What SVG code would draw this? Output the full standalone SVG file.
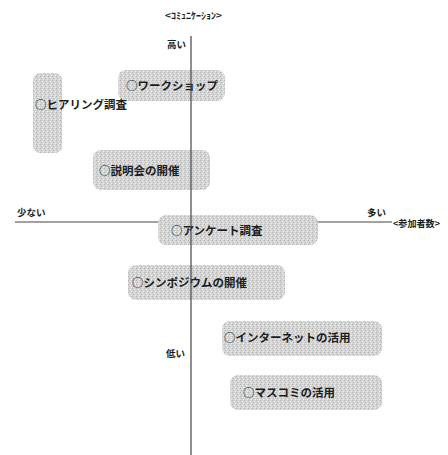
<svg xmlns="http://www.w3.org/2000/svg" width="448" height="455" viewBox="0 0 448 455">
<style>
.box{fill:url(#stip);}
.lbl{font-family:"Noto Sans CJK JP","Noto Sans",sans-serif;font-size:11.5px;font-weight:bold;fill:#1e1e1e;}
.ax{font-family:"Noto Sans CJK JP","Noto Sans",sans-serif;font-size:9.5px;font-weight:bold;fill:#1e1e1e;}
.axis{stroke:#444;stroke-width:1.2;fill:none;}
</style>
<defs>
<pattern id="stip" width="4" height="4" patternUnits="userSpaceOnUse">
<rect width="4" height="4" fill="#d4d4d4"/>
<rect x="0" y="0" width="1" height="1" fill="#b2b2b2"/>
<rect x="2" y="1" width="1" height="1" fill="#ececec"/>
<rect x="1" y="2" width="1" height="1" fill="#bababa"/>
<rect x="3" y="3" width="1" height="1" fill="#efefef"/>
</pattern>
</defs>
<rect width="448" height="455" fill="#ffffff"/>
<g id="axes">
<line class="axis" x1="15" y1="222" x2="392" y2="222"/>
</g>
<g id="node-workshop"><rect class="box" x="118" y="70" width="107" height="31" rx="8"/><text class="lbl" x="126" y="90">○ワークショップ</text></g>
<g id="node-hearing"><rect class="box" x="33" y="73" width="29" height="80" rx="7"/><text class="lbl" x="35" y="109">○ヒアリング調査</text></g>
<g id="node-setsumeikai"><rect class="box" x="93" y="150" width="117" height="40" rx="8"/><text class="lbl" x="99" y="175">○説明会の開催</text></g>
<g id="node-enquete"><rect class="box" x="158" y="215" width="160" height="30" rx="8"/><text class="lbl" x="171" y="235">○アンケート調査</text></g>
<g id="node-symposium"><rect class="box" x="128" y="265" width="157" height="35" rx="8"/><text class="lbl" x="132" y="287">○シンポジウムの開催</text></g>
<g id="node-internet"><rect class="box" x="222" y="321" width="160" height="35" rx="8"/><text class="lbl" x="224" y="342">○インターネットの活用</text></g>
<g id="node-masscomi"><rect class="box" x="230" y="375" width="152" height="35" rx="8"/><text class="lbl" x="243" y="397">○マスコミの活用</text></g>
<g id="connectors">
<line class="axis" x1="191" y1="36" x2="191" y2="455"/>
</g>
<g id="axis-labels">
<text class="ax" x="165" y="19" textLength="57" lengthAdjust="spacingAndGlyphs">&lt;ｺﾐｭﾆｹｰｼｮﾝ&gt;</text>
<text class="ax" x="167" y="48">高い</text>
<text class="ax" x="166" y="357">低い</text>
<text class="ax" x="17" y="216">少ない</text>
<text class="ax" x="367" y="216">多い</text>
<text class="ax" x="393" y="227" textLength="47" lengthAdjust="spacingAndGlyphs">&lt;参加者数&gt;</text>
</g>
</svg>
